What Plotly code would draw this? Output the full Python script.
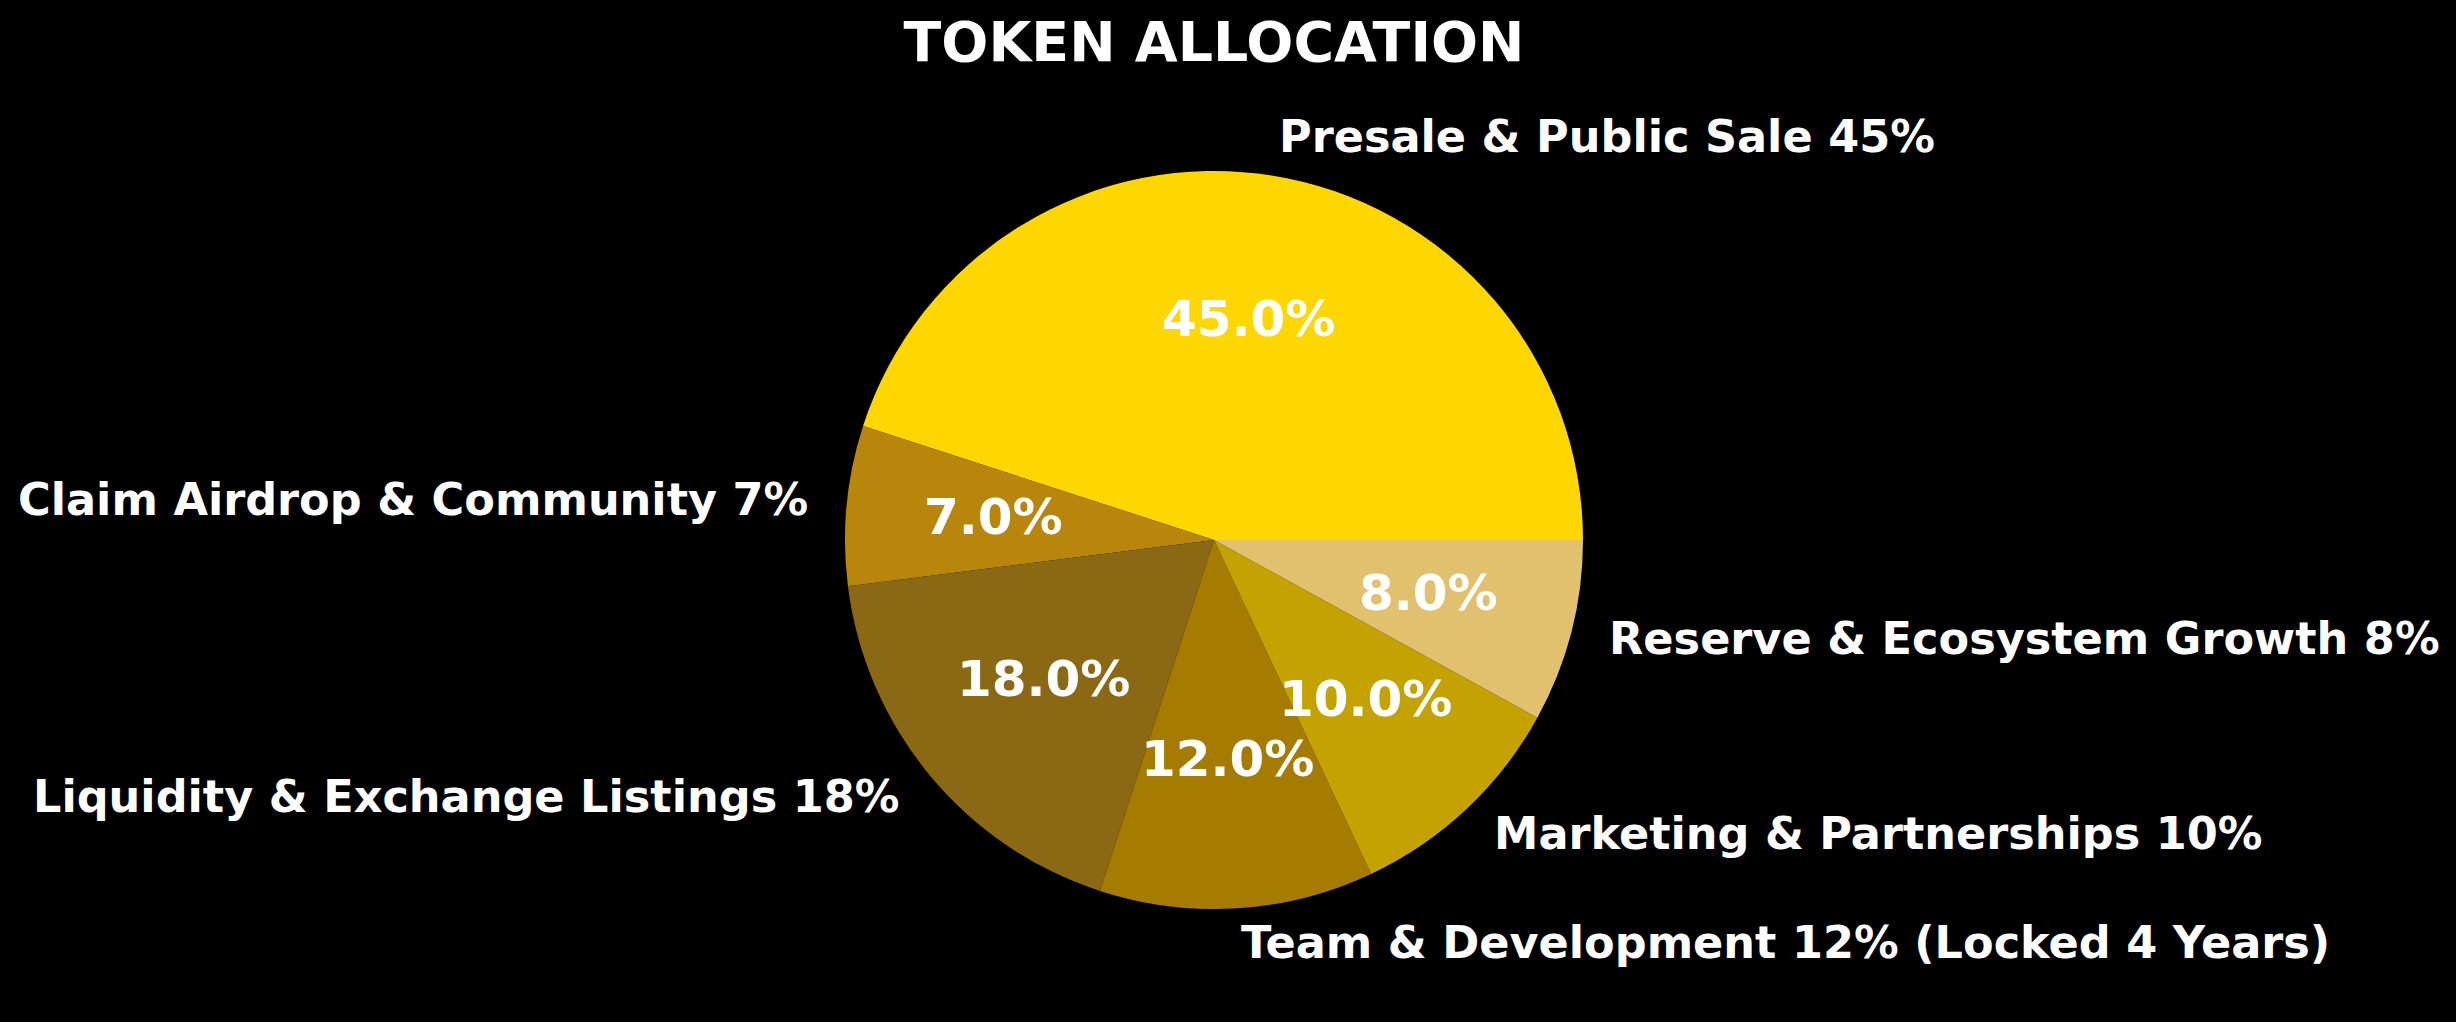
import numpy as np
import plotly.graph_objects as go

labels = [
    "Presale & Public Sale 45%",
    "Claim Airdrop & Community 7%",
    "Liquidity & Exchange Listings 18%",
    "Team & Development 12% (Locked 4 Years)",
    "Marketing & Partnerships 10%",
    "Reserve & Ecosystem Growth 8%",
]
values = [45, 7, 18, 12, 10, 8]
colors = ["#FFD700", "#B8860B", "#8B6914", "#A67C00", "#C4A300", "#E1C16E"]
title = "TOKEN ALLOCATION"

W, H = 2456, 1022
CX, CY, R = 1214, 540, 369  # pie centre / radius in pixels
FONT = "DejaVu Sans"

total = float(sum(values))
# first slice starts at 3 o'clock and slices run counter-clockwise
rotation = 90 - 360.0 * values[0] / total

fig = go.Figure()
fig.add_trace(go.Pie(
    labels=labels, values=values, sort=False, direction="counterclockwise",
    rotation=rotation, textinfo="none", hoverinfo="label+percent",
    marker=dict(colors=colors, line=dict(width=0)),
    showlegend=False,
    domain=dict(x=[(CX - R) / W, (CX + R) / W],
                y=[(H - CY - R) / H, (H - CY + R) / H]),
))

ann = []
start = 0.0
for lab, v in zip(labels, values):
    frac = v / total
    mid = np.deg2rad((start + frac / 2) * 360.0)
    start += frac
    cx, sy = np.cos(mid), np.sin(mid)
    # outer label at 1.1 R
    lx = CX + 1.1 * R * cx
    ly = CY - 1.1 * R * sy - 2
    ann.append(dict(
        x=lx / W, y=1 - ly / H, xref="paper", yref="paper",
        text=lab, showarrow=False,
        xanchor="left" if cx > 0 else "right", yanchor="middle",
        font=dict(family=FONT, size=44.6, color="white", weight="bold"),
    ))
    # percentage at 0.6 R
    px = CX + 0.6 * R * cx
    py = CY - 0.6 * R * sy - 2
    ann.append(dict(
        x=px / W, y=1 - py / H, xref="paper", yref="paper",
        text=f"{frac * 100:.1f}%", showarrow=False,
        xanchor="center", yanchor="middle",
        font=dict(family=FONT, size=50, color="white", weight="bold"),
    ))

fig.update_layout(
    width=W, height=H,
    margin=dict(l=0, r=0, t=0, b=0),
    paper_bgcolor="black", plot_bgcolor="black",
    title=dict(text=title, x=1214 / W, xanchor="center",
               y=1 - 42 / H, yanchor="middle", yref="container",
               font=dict(family=FONT, size=55.4, color="white", weight="bold")),
    annotations=ann,
)

fig.write_html("out.html")
